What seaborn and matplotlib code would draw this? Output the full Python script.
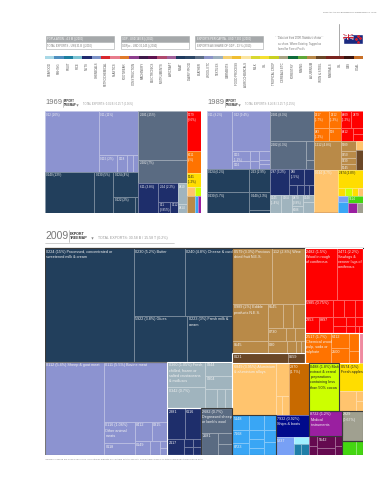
import numpy as np
import matplotlib
matplotlib.use("Agg")
import matplotlib.pyplot as plt
import seaborn as sns
from matplotlib.colors import ListedColormap, to_rgb
from matplotlib.patches import Rectangle

sns.set_theme(style="white")
plt.rcParams['font.family'] = ['Liberation Sans', 'DejaVu Sans']

W, H = 387, 480

# product colours
PERI = "#8C93D0"
DAIRY = "#223F5C"
SLATE = "#5A6B82"
NAVY = "#1E2E6B"
GREY = "#A0B4BE"
TAN = "#B98A48"
DBROWN = "#6B4726"
RED = "#FF0000"
ORANGE = "#FF7300"
LORANGE = "#FFC46E"
DORANGE = "#C86A00"
LIME = "#CCFF00"
YELLOW = "#FFDD00"
BLUE = "#39A6F5"
DNAVY = "#000A8C"
PURPLE = "#9A1FA0"
PLUM = "#650A50"
KHAKI = "#A0A090"
GREEN = "#44D611"
LBLUE = "#78A0F5"
CYAN = "#A0F0FF"
TEAL = "#1F7FA8"
DARK_TEXT = [LIME, YELLOW]

# legend strip
strip_colors = ["#A8D8E6", "#4E8FC0", "#1C7FA0", "#7CC4D4", "#1F2A6E", "#7D93C8", "#D9282E",
                "#E87C8C", "#E07A2A", "#8E3F8E", "#3F1A4A", "#5E1450", "#B04A6E", "#A0609A",
                "#1F3A5F", "#2C4666", "#5C6E86", "#8C94C8", "#9DB0BE", "#F5D070", "#F0BE30",
                "#FBE5A0", "#D8D830", "#F5E030", "#C8D020", "#A8A484", "#0E6B3A", "#60A838",
                "#B88848", "#6B4726", "#7A241E", "#7A241E", "#3A1410", "#C87028"]
strip_labels = ["SEAFOOD", "FISHING", "FRUIT", "RICE", "NUTS", "CHEMICALS", "PETROCHEMICAL",
                "PLASTICS", "FOOTWEAR", "CONSTRUCTION", "MACHINERY", "ELECTRONICS", "INSTRUMENTS",
                "AIRCRAFT", "MEAT", "DAIRY PROD", "LEATHER", "WOOL ETC", "TEXTILES",
                "GARMENTS", "FOOD PROCESS", "AGROCHEMICALS", "MILK", "OIL", "TROPICAL CROP",
                "CEREALS ETC", "FORESTRY", "MINING", "ALUMINIUM", "IRON & STEEL", "MINERALS",
                "OIL", "GAS", "COAL"]

# export shares, 1969
meat_1969 = [(20.5, "012 (20%)"),
             [(10.8, "011 (11%)"), [(1.9, "0115 (2%)"), (1.0, "0118"), 0.7, 0.5]]]
dairy_1969 = [(12.9, "0240 (13%)"), (5.0, "0230 (5%)"),
              [(3.9, "0224 (4%)"), [(2.3, "0222 (2%)"), 0.3]]]
wool_1969 = [(14.8, "2681 (15%)"), (7.1, "2682 (7%)")]
hides_1969 = [(3.8, "611 (3.8%)"),
              [(2.2, "264 (2.2%)"), [(0.85, "021\n(0.85%)"), (0.56, "0212")]]]
fish_1969 = [(1.2, "0810"), (0.5, "0814")]
col3_1969 = [(RED, (3.6, "0579\n(3.6%)")), (ORANGE, (2.0, "0611\n(2%)")),
             (YELLOW, (1.2, "0541\n(1.2%)")),
             [(LORANGE, 0.45), (LIME, 0.35)],
             [(TAN, 0.9), (BLUE, 0.4), (PURPLE, 0.3)]]

# export shares, 1989
meat_1989 = [(9.2, "011 (9.2%)"),
             [(9.4, "012 (9.4%)"),
              [[(1.1, "0115\n(1.1%)"), (0.8, "0116")], [0.6, 0.4], [0.66, 0.28, 0.28]]]]
dairy_1989 = [[(6.4, "0224 (6.2%)"), (5.6, "0230 (5.7%)")],
              [(3.0, "263 (2.9%)"), (2.3, "0240 (2.3%)"), 0.4]]
wool_1989 = [(8.3, "2681 (8.3%)"),
             [(6.3, "2682 (6.3%)"), [0.87, 0.38]]]
hides_1989 = [(3.2, "287 (3.2%)"),
              [(1.5, "288\n(1.5%)"), [0.46, 0.46]],
              [0.97, [0.3, 0.3]]]
fish_1989 = [(1.35, "0245\n(1.4%)"), (1.2, "0264"),
             [(0.8, "0470\n(0.8%)"), (0.5, "0686")],
             [(0.5, "0248"), 0.8]]
orange_1989 = [[(1.66, "2517\n(1.7%)"), (1.2, "083\n(1.2%)")],
               [(1.27, "2512\n(1.3%)"), (0.93, "058")]]
red_1989 = [[(1.12, "6409\n(1.2%)"), (1.27, "2479")],
            [(1.0, "6412"), [0.35, 0.39]]]
tan_1989 = [(4.85, "1212 (4.8%)"), [(0.94, "0989"), (0.63, "0750"), (0.63, "0739"), (0.5, "0545")],
            [(LORANGE, 0.4), (DBROWN, 0.86)]]
fruit_1989 = [(6.3, "0544 (6.7%)"), (DORANGE, 0.25)]
mix_1989 = [(YELLOW, (2.8, "2474 (2.8%)")),
            [(YELLOW, 0.37), (LIME, 0.33), (YELLOW, 0.33), (LORANGE, 0.22)]]
small_1989 = [[(LBLUE, 0.42), (BLUE, 0.69)],
              [(GREEN, (0.72, "5514")), [(PURPLE, 0.56), (KHAKI, 0.38)]]]

# export shares, 2009
dairy_2009 = [(15.1, "0224 (15%) Processed, concentrated or\nsweetened milk & cream"),
              [[(5.2, "0230 (5.2%) Butter"), (4.8, "0240 (4.8%) Cheese & curd")],
               [(3.7, "5922 (3.8%) Glues"), (3.1, "0223 (3%) Fresh milk &\ncream")]]]
meat_2009 = [(8.3, "0112 (5.4%) Sheep & goat meat"),
             [(5.7, "0111 (5.5%) Bovine meat"),
              [[(1.0, "0116 (1.06%)\nOther animal\nmeats"), (0.55, "0118")],
               [[(0.5, "8412"), (0.46, "0815")],
                [(0.32, "0149"), 0.2, [0.08, 0.08]]]]]]
fish_2009 = [[(1.44, "0360 (1.05%) Fresh,\nchilled, frozen or\nsalted crustaceans\n& molluscs"),
              (1.2, "0342 (0.7%)")],
             [(0.57, "0344"), (0.53, "0304"), [0.35, 0.23, 0.2]]]
hides_2009 = [[(0.8, "2881"), (0.75, "6116")],
              [(0.4, "2117"), [0.12, 0.11], [0.1, 0.1]]]
wool_2009 = [(1.14, "2682 (0.7%)\nDegreased sheep\nor lamb's wool"),
             [(0.56, "2681"), [0.25, 0.24]]]
tan_2009 = [[(3.3, "0579 (3.3%) Precious\ndried fruit N.E.S."), (2.76, "112 (2.8%) Wine")],
            [[(2.0, "0989 (2%) Edible\nproducts N.E.S."), (0.64, "0545")],
             [[(0.57, "6545"), 0.38, 0.42],
              [(0.36, "0730"), 0.18, 0.18],
              [(0.33, "080"), 0.16, 0.09, 0.07]]]]
dbrown_2009 = [(0.84, "0121"), (0.26, "0659")]
red_2009 = [[(2.5, "2482 (1.5%)\nWood in rough\nof coniferous"),
             (2.0, "3471 (2.2%)\nSawlogs &\nveneer logs of\nconiferous")],
            [[(0.72, "5985 (0.75%)"), [(0.34, "2353"), (0.34, "8997")]],
             [[0.28, 0.28, 0.2], [0.18, 0.12, 0.11], [0.14, 0.1, 0.04, 0.04]]]]
orange_2009 = [(1.18, "2517 (1.7%)\nChemical wood\npulp, soda or\nsulphate"),
               [(0.41, "6412"), (0.41, "2500")], [0.27, 0.18]]
alu_2009 = [(3.4, "6849 (3.95%) Aluminium\n& aluminium alloys"),
            [0.65, [0.17, 0.2]]]
blue_2009 = [[(0.39, "5148"), (0.34, "7168"), (0.31, "8723")],
             [0.34, 0.2, 0.2, 0.16], [0.25, 0.2, 0.22]]
cyan_2009 = [(CYAN, 0.16), (TEAL, [0.125, 0.125])]
milk_2009 = (2.17, "0488 (1.8%) Malt\nextract & cereal\npreparations\ncontaining less\nthan 50% cocoa")
fruit_2009 = [(YELLOW, (0.98, "0574 (1%)\nFresh apples")),
              (LORANGE, [0.49, [0.1, 0.1]])]
plum_2009 = [[0.12, 0.12], [(0.3, "5542"), 0.2], [0.1, 0.1]]

DARK_FRAME = "#3a3a3a"
tree_1969 = [
    [(PERI, meat_1969), (DAIRY, dairy_1969)],
    [(SLATE, [wool_1969]), [(NAVY, [hides_1969]), (GREY, fish_1969)]],
    col3_1969,
]
tree_1989 = [
    [(PERI, meat_1989), (DAIRY, dairy_1989)],
    [(SLATE, [wool_1989]), (NAVY, hides_1989), (GREY, fish_1989)],
    [[(ORANGE, [orange_1989]), (RED, red_1989)],
     (TAN, tan_1989),
     [(LORANGE, fruit_1989), [(YELLOW, [mix_1989]), small_1989]]],
]
tree_2009 = [
    [(DAIRY, dairy_2009, DARK_FRAME),
     [(PERI, [meat_2009], "#777777"),
      [(GREY, fish_2009, "white"),
       [(NAVY, hides_2009, "white"), (SLATE, wool_2009, DARK_FRAME)]]]],
    [[[(TAN, [tan_2009], DARK_FRAME), (DBROWN, dbrown_2009, "white")],
      [(RED, [red_2009], "white"),
       [(ORANGE, [orange_2009], "white"), ("#F08AA0", 0.18)]]],
     [[[(LORANGE, [alu_2009]), (DORANGE, (1.58, "2870\n(1.7%)"))],
       [(BLUE, [blue_2009], DARK_FRAME),
        [(DNAVY, (1.1, "7932 (0.92%)\nShips & boats")),
         [(LBLUE, (0.49, "5237")), cyan_2009]]]],
      [[(LIME, milk_2009, DARK_FRAME), fruit_2009],
       [[(PURPLE, (1.24, "8722 (1.2%)\nMedical\ninstruments"), DARK_FRAME), (PLUM, plum_2009)],
        [(KHAKI, (0.96, "2929\n(0.67%)"), DARK_FRAME), (GREEN, [0.3, 0.15], DARK_FRAME)]]]]],
]


def total(n):
    if isinstance(n, list):
        return sum(total(c) for c in n)
    if isinstance(n, tuple):
        return total(n[1]) if isinstance(n[0], str) else n[0]
    return n


def tint(c, t=0.45):
    r = np.array(to_rgb(c))
    return tuple(r + (1 - r) * t)


def draw(ax, n, x, y, w, h, horiz, color, size):
    # colour node, with an optional frame colour
    if isinstance(n, tuple) and isinstance(n[0], str):
        draw(ax, n[1], x, y, w, h, horiz, n[0], size)
        if len(n) > 2:
            ax.add_patch(Rectangle((x, y), w, h, fill=False, ec=n[2], lw=0.8, zorder=4))
        return
    if isinstance(n, list):
        pos = 0
        tot = total(n)
        for c in n:
            f = total(c) / tot
            if horiz:
                draw(ax, c, x + pos * w, y, f * w, h, False, color, size)
            else:
                draw(ax, c, x, y + pos * h, w, f * h, True, color, size)
            pos += f
        return
    ax.add_patch(Rectangle((x, y), w, h, fc=color, ec=tint(color), lw=0.45, zorder=2))
    if isinstance(n, tuple):
        tc = "#222222" if color in DARK_TEXT else "#F2F2F2"
        ax.annotate(n[1], (x, y), xytext=(1.0, -1.2), textcoords="offset points", va="top",
                    ha="left", fontsize=size, color=tc, linespacing=1.4, zorder=5)


def treemap(tree, x0, y0, x1, y1, size):
    ax = fig.add_axes([x0 / W, 1 - y1 / H, (x1 - x0) / W, (y1 - y0) / H])
    ax.set_xlim(0, 1)
    ax.set_ylim(1, 0)
    ax.axis("off")
    draw(ax, tree, 0, 0, 1, 1, True, "#888888", size)
    return ax


fig = plt.figure(figsize=(W / 100, H / 100), dpi=100, facecolor="white")
page = fig.add_axes([0, 0, 1, 1])
page.set_xlim(0, W)
page.set_ylim(H, 0)
page.axis("off")

# page header
page.text(376, 12, "THE ATLAS OF ECONOMIC COMPLEXITY | 153", ha="right", va="center",
          fontsize=1.7, color="#666666")

# boxes on top
boxes = [(45.7, "POPULATION - 4.3 M | (2010)", "TOTAL EXPORTS - US$ 31 B | (2010)"),
         (120.7, "GDP - USD 140 B | (2010)", "GDPpc - USD 32,145 | (2010)"),
         (195.2, "EXPORTS PER CAPITA - USD 7,300 | (2010)", "EXPORTS AS SHARE OF GDP - 23 % (2010)")]
for bx, top_txt, low_txt in boxes:
    page.add_patch(Rectangle((bx, 36), 68, 6, fc="#A5A8AA", ec="#A5A8AA", lw=0.4))
    page.add_patch(Rectangle((bx, 42), 68, 7, fc="white", ec="#A5A8AA", lw=0.4))
    page.text(bx + 1.5, 39, top_txt, fontsize=1.9, color="white", va="center")
    page.text(bx + 1.5, 45.6, low_txt, fontsize=1.9, color="#777777", va="center")

page.plot([275, 323], [35.5, 35.5], color="#BBBBBB", lw=0.4, ls=":")
page.text(278, 43.5, "Data are from 2008. Numbers shown\nas share. Where Existing. Tagged as\nfound for Forest Prod's",
          fontsize=1.9, color="#777777", va="center", linespacing=1.4)
page.plot([338.5, 338.5], [24, 56], color="#AAAAAA", lw=0.7)

# New Zealand flag
flag = fig.add_axes([343 / W, 1 - 44 / H, 20 / W, 10 / H])
flag.set_xlim(0, 2)
flag.set_ylim(0, 1)
flag.axis("off")
flag.add_patch(Rectangle((0, 0), 2, 1, fc="#1B2A80"))
flag.plot([0, 1], [0.5, 1], color="white", lw=1.0)
flag.plot([0, 1], [1, 0.5], color="white", lw=1.0)
flag.plot([0, 1], [0.5, 1], color="#CC2233", lw=0.4)
flag.plot([0, 1], [1, 0.5], color="#CC2233", lw=0.4)
flag.plot([0.5, 0.5], [0.5, 1], color="white", lw=1.3)
flag.plot([0, 1], [0.75, 0.75], color="white", lw=1.3)
flag.plot([0.5, 0.5], [0.5, 1], color="#CC2233", lw=0.7)
flag.plot([0, 1], [0.75, 0.75], color="#CC2233", lw=0.7)
flag.scatter([1.5, 1.3, 1.72, 1.5], [0.8, 0.55, 0.6, 0.2], s=1.2, color="#CC2233", marker="*")

# legend strip
strip = fig.add_axes([45 / W, 1 - 59.2 / H, 318 / W, 3.7 / H])
sns.heatmap(np.arange(len(strip_colors)).reshape(1, -1), cmap=ListedColormap(strip_colors),
            cbar=False, xticklabels=strip_labels, yticklabels=False, ax=strip)
strip.tick_params(axis="x", length=0, pad=2.0, labelsize=2.1, labelcolor="#555555", labelrotation=90)
strip.set_xlabel("")


def section(x, y, year, big, small, off, tri, total_x, total_txt, rule):
    # year + "EXPORT TREEMAP" title of one treemap
    page.text(x, y, year, fontsize=big, color="#777777", va="center")
    page.plot([x + off - 1.2] * 2, [y - big * 0.8, y + big * 0.8], color="#999999", lw=0.4)
    page.text(x + off, y, "EXPORT\nTREEMAP", fontsize=small, fontweight="bold", color="#333333",
              va="center", linespacing=1.1)
    page.scatter([tri], [y + 2], marker="v", s=3, color="#888888", lw=0)
    page.text(total_x, y + 1.5, total_txt, fontsize=small, color="#999999", va="center")
    if rule:
        page.plot([x, x + rule], [y + 6.5, y + 6.5], color="#AAAAAA", lw=0.4)


section(45, 103, "1969", 5.5, 1.9, 19, 77, 83, "TOTAL EXPORTS: 0.01 B / 0.25 T (0.36%)", 0)
section(207, 103, "1989", 5.5, 1.9, 19, 239, 245, "TOTAL EXPORTS: 8.26 B / 3.25 T (0.25%)", 0)
section(45, 236, "2009", 7.5, 2.6, 25, 92, 98, "TOTAL EXPORTS: 30.58 B / 15.58 T (0.2%)", 129)

treemap(tree_1969, 45, 111, 201, 213.3, 2.2)
treemap(tree_1989, 206.7, 111, 362.7, 213.3, 2.2)
treemap(tree_2009, 45, 248, 362.7, 455.3, 2.7)
page.plot([45, 362.7], [248, 248], color="#222222", lw=0.9)

page.text(45, 459, "*Numbers added are 2008 from 5 rdns. Parenthesis indicate percentage of total exports. "
          "Percentages based on total Trade/Export/World Bank data.",
          fontsize=1.7, color="#8A8A8A", va="center")

fig.savefig("out.png", dpi=100)
